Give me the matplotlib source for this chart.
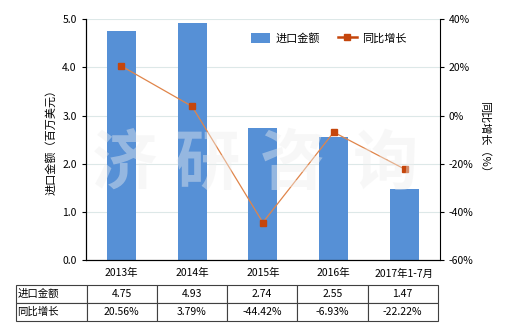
import matplotlib.pyplot as plt
from matplotlib.ticker import FuncFormatter

plt.rcParams['font.family'] = ['Noto Sans CJK SC', 'DejaVu Sans']

categories = ['2013年', '2014年', '2015年', '2016年', '2017年1-7月']
imports = [4.75, 4.93, 2.74, 2.55, 1.47]
growth = [20.56, 3.79, -44.42, -6.93, -22.22]
import_labels = ['4.75', '4.93', '2.74', '2.55', '1.47']
growth_labels = ['20.56%', '3.79%', '-44.42%', '-6.93%', '-22.22%']

bar_color = '#5690d6'
line_color = '#e0854a'
marker_color = '#c5460c'

fig = plt.figure(figsize=(5.2, 3.3), dpi=100)
ax = fig.add_axes([0.165, 0.212, 0.681, 0.730])
x = range(len(categories))
bars = ax.bar(x, imports, width=0.41, color=bar_color, label='进口金额', zorder=2)
ax.set_xlim(-0.5, 4.5)
ax.set_ylim(0, 5)
ax.set_yticks([0, 1, 2, 3, 4, 5])
ax.yaxis.set_major_formatter(FuncFormatter(lambda v, p: f'{v:.1f}'))
ax.grid(axis='y', color='#dde8e8', linewidth=0.8, zorder=0)
ax.set_xticks(list(x))
ax.set_xticklabels(categories)
ax.tick_params(axis='x', length=0, labelsize=7.5, pad=6)
ax.tick_params(axis='y', labelsize=7.5, direction='out', length=3)
ax.set_ylabel('进口金额（百万美元）', fontsize=8)
for s in ['top', 'right']:
    ax.spines[s].set_visible(False)

ax2 = ax.twinx()
ln, = ax2.plot(x, growth, color=line_color, linewidth=0.9, marker='s',
               markersize=4.5, markerfacecolor=marker_color,
               markeredgecolor=marker_color, label='同比增长', zorder=3)
ax2.set_ylim(-60, 40)
ax2.set_yticks([-60, -40, -20, 0, 20, 40])
ax2.yaxis.set_major_formatter(FuncFormatter(lambda v, p: f'{v:.0f}%'))
ax2.tick_params(axis='y', labelsize=7.5, direction='out', length=3)
ax2.set_ylabel('同比增长（%）', fontsize=8, rotation=-90, labelpad=12)
ax2.spines['top'].set_visible(False)

legend_line, = ax.plot([], [], color=marker_color, linewidth=1.8, marker='s',
                       markersize=4, markerfacecolor=marker_color)
ax.legend([bars, legend_line], ['进口金额', '同比增长'], loc='upper right',
          bbox_to_anchor=(0.935, 0.985), ncol=2, frameon=False, fontsize=8,
          handlelength=1.7, handleheight=1.1, handletextpad=0.5,
          columnspacing=1.6)

# watermark
for ch, px in zip('济研咨询', [125, 207, 292, 385]):
    fig.text(px / 520, 1 - 164 / 330, ch, fontsize=47, color='#eeeeee',
             alpha=0.42, ha='center', va='center', fontweight='bold', zorder=10)

cell_text = [['进口金额'] + import_labels, ['同比增长'] + growth_labels]
tbl = ax.table(cellText=cell_text, cellLoc='center',
               bbox=[-0.198, -0.253, 1.192, 0.149],
               colWidths=[0.168] + [0.1664] * 5)
tbl.auto_set_font_size(False)
tbl.set_fontsize(7.5)
for (r, c), cell in tbl.get_celld().items():
    cell.set_edgecolor('#404040')
    cell.set_linewidth(0.8)
    if c == 0:
        cell.get_text().set_ha('left')
        cell.PAD = 0.02

fig.savefig('out.png', dpi=100)
